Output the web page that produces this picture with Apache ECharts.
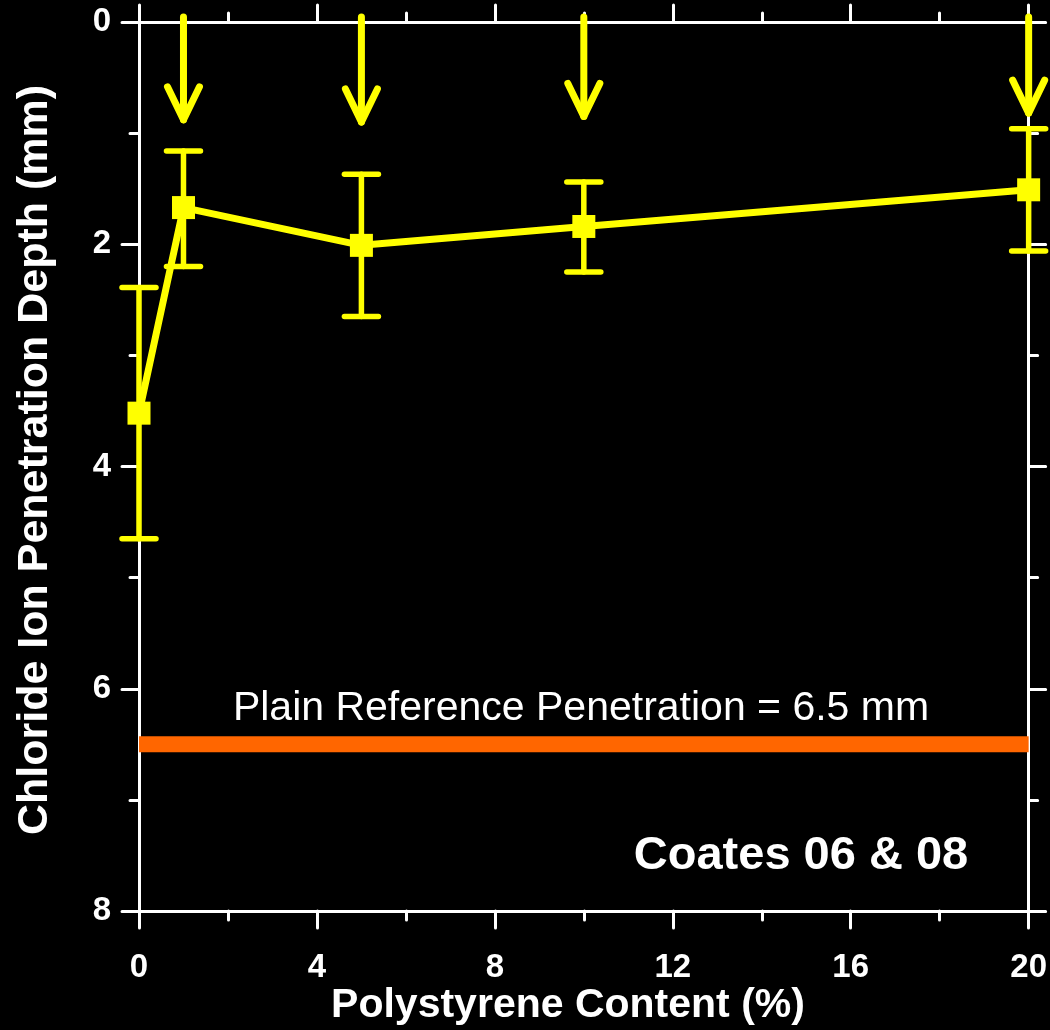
<!DOCTYPE html>
<html>
<head>
<meta charset="utf-8">
<script src="https://cdn.jsdelivr.net/npm/echarts@6/dist/echarts.min.js"></script>
<style>
  html, body { margin: 0; padding: 0; background: #000; }
  #chart { width: 1050px; height: 1030px; }
</style>
</head>
<body>
<div id="chart"></div>
<script>
// ---- data ----
var contents = [0, 1, 5, 10, 20];                 // polystyrene content (%)
var depths = [3.52, 1.67, 2.01, 1.84, 1.51];      // mean penetration depth (mm)
var errTop = [2.39, 1.16, 1.37, 1.44, 0.96];      // error bar upper end (mm)
var errBottom = [4.65, 2.20, 2.65, 2.25, 2.06];   // error bar lower end (mm)
var arrowX = [1, 5, 10, 20];                      // arrow positions (%)
var arrowTip = [0.88, 0.90, 0.85, 0.82];          // arrow tip depth (mm)
var refDepth = 6.5;                               // plain reference (mm)
var refLabel = 'Plain Reference Penetration = 6.5 mm';
var sourceLabel = 'Coates 06 & 08';
var xTitle = 'Polystyrene Content (%)';
var yTitle = 'Chloride Ion Penetration Depth (mm)';

var FONT = 'Arial, "Liberation Sans", sans-serif';
var YEL = '#ffff00';
var WHITE = '#ffffff';

var chart = echarts.init(document.getElementById('chart'), null, {renderer: 'canvas'});

function axisCommon(showLabels) {
  return {
    axisLine: {show: true, onZero: false, lineStyle: {color: WHITE, width: 3}},
    axisTick: {show: true, inside: false, length: 17, lineStyle: {color: WHITE, width: 3, cap: 'round'}},
    minorTick: {show: true, splitNumber: 2, length: 9, lineStyle: {color: WHITE, width: 3, cap: 'round'}},
    splitLine: {show: false},
    minorSplitLine: {show: false},
    axisLabel: {show: showLabels, color: WHITE, fontFamily: FONT, fontWeight: 'bold', fontSize: 33}
  };
}

var xBottom = Object.assign({type: 'value', min: 0, max: 20, interval: 4, position: 'bottom', gridIndex: 0}, axisCommon(true));
xBottom.axisLabel.margin = 40;
var xTop = Object.assign({type: 'value', min: 0, max: 20, interval: 4, position: 'top', gridIndex: 0}, axisCommon(false));
var yLeft = Object.assign({type: 'value', min: 0, max: 8, interval: 2, inverse: true, position: 'left', gridIndex: 0}, axisCommon(true));
yLeft.axisLabel.margin = 28;
yLeft.axisLabel.padding = [6, 0, 0, 0];
var yRight = Object.assign({type: 'value', min: 0, max: 8, interval: 2, inverse: true, position: 'right', gridIndex: 0}, axisCommon(false));

var meanData = contents.map(function (x, i) { return [x, depths[i]]; });
var errData = contents.map(function (x, i) { return [x, errTop[i], errBottom[i]]; });
var arrowData = arrowX.map(function (x, i) { return [x, arrowTip[i]]; });

var option = {
  backgroundColor: '#000000',
  animation: false,
  grid: {left: 139, right: 21, top: 22, bottom: 119, containLabel: false},
  xAxis: [xBottom, xTop],
  yAxis: [yLeft, yRight],
  series: [
    {
      name: 'reference',
      type: 'line',
      data: [[0, refDepth], [20, refDepth]],
      symbol: 'none',
      lineStyle: {color: '#ff6600', width: 16, cap: 'butt'},
      z: 1
    },
    {
      name: 'errors',
      type: 'custom',
      data: errData,
      z: 2,
      renderItem: function (params, api) {
        var x = api.value(0);
        var p1 = api.coord([x, api.value(1)]);
        var p2 = api.coord([x, api.value(2)]);
        var hw = 17;
        var style = {stroke: YEL, lineWidth: 5.5, lineCap: 'round'};
        return {
          type: 'group',
          children: [
            {type: 'line', shape: {x1: p1[0], y1: p1[1], x2: p2[0], y2: p2[1]}, style: style},
            {type: 'line', shape: {x1: p1[0] - hw, y1: p1[1], x2: p1[0] + hw, y2: p1[1]}, style: style},
            {type: 'line', shape: {x1: p2[0] - hw, y1: p2[1], x2: p2[0] + hw, y2: p2[1]}, style: style}
          ]
        };
      }
    },
    {
      name: 'depth',
      type: 'line',
      data: meanData,
      symbol: 'rect',
      symbolSize: 23,
      itemStyle: {color: YEL},
      lineStyle: {color: YEL, width: 7},
      z: 3
    },
    {
      name: 'arrows',
      type: 'custom',
      data: arrowData,
      z: 4,
      renderItem: function (params, api) {
        var x = api.value(0);
        var start = api.coord([x, 0]);
        var tip = api.coord([x, api.value(1)]);
        var style = {stroke: YEL, lineWidth: 7, lineCap: 'round', lineJoin: 'round', fill: null};
        return {
          type: 'group',
          children: [
            {type: 'line', shape: {x1: start[0], y1: start[1] - 5, x2: tip[0], y2: tip[1]}, style: style},
            {type: 'polyline', shape: {points: [[tip[0] - 16, tip[1] - 33], [tip[0], tip[1]], [tip[0] + 16, tip[1] - 33]]}, style: style}
          ]
        };
      }
    }
  ],
  graphic: [
    {type: 'text', x: 581, y: 709, style: {text: refLabel, fill: WHITE, font: '41px ' + FONT, textAlign: 'center', textVerticalAlign: 'middle'}},
    {type: 'text', x: 801, y: 856, style: {text: sourceLabel, fill: WHITE, font: 'bold 47px ' + FONT, textAlign: 'center', textVerticalAlign: 'middle'}},
    {type: 'text', x: 568, y: 1006, style: {text: xTitle, fill: WHITE, font: 'bold 41px ' + FONT, textAlign: 'center', textVerticalAlign: 'middle'}},
    {type: 'text', x: 35, y: 460, rotation: Math.PI / 2, style: {text: yTitle, fill: WHITE, font: 'bold 43px ' + FONT, textAlign: 'center', textVerticalAlign: 'middle'}}
  ]
};

chart.setOption(option);
</script>
</body>
</html>
